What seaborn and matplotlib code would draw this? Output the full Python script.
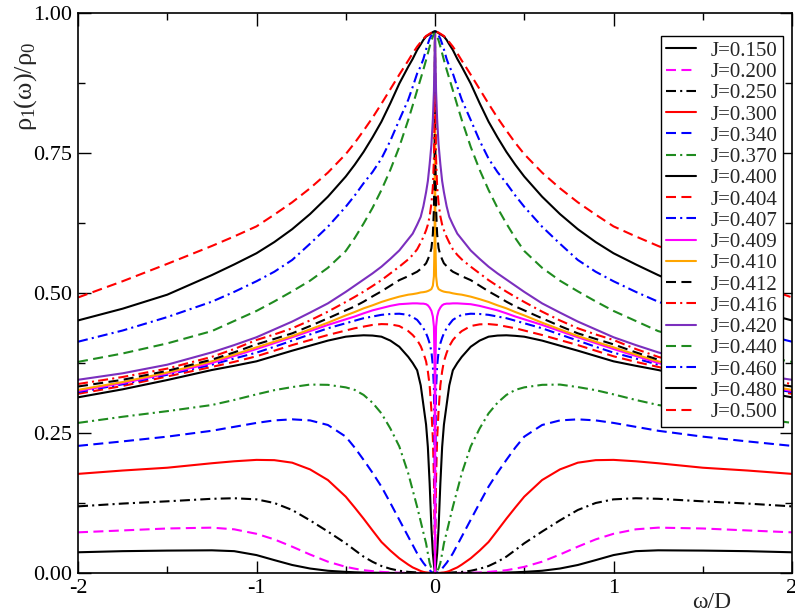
import numpy as np
import pandas as pd
import matplotlib
matplotlib.use("Agg")
import matplotlib.pyplot as plt
import seaborn as sns
from matplotlib.ticker import MultipleLocator, FormatStrFormatter

# |omega|/D sample points (curves are symmetric in omega, read on the left half)
omega_half = [0.0, 0.002, 0.006, 0.012, 0.02, 0.03, 0.04, 0.05, 0.065, 0.08,
              0.1, 0.125, 0.15, 0.2, 0.25, 0.3, 0.35, 0.4, 0.45, 0.5,
              0.6, 0.7, 0.8, 0.9, 1.0, 1.125, 1.25, 1.5, 1.75, 2.0]

j_labels = ["J=0.150", "J=0.200", "J=0.250", "J=0.300", "J=0.340", "J=0.370",
            "J=0.400", "J=0.404", "J=0.407", "J=0.409", "J=0.410", "J=0.412",
            "J=0.416", "J=0.420", "J=0.440", "J=0.460", "J=0.480", "J=0.500"]

rho_150 = [0, 0, 0, 0, 0, 0, 0, 0, 0, 0,
           0, 0, 0, 0, 0.0001, 0.0003, 0.0005, 0.0008, 0.0013, 0.002,
           0.004, 0.008, 0.0143, 0.023, 0.032, 0.039, 0.0405, 0.040, 0.039, 0.037]
rho_200 = [0, 0, 0, 0, 0, 0, 0, 0, 0, 0,
           0, 0, 0.0002, 0.0005, 0.001, 0.002, 0.0033, 0.005, 0.0078, 0.011,
           0.0202, 0.033, 0.047, 0.060, 0.070, 0.078, 0.081, 0.0795, 0.076, 0.0726]
rho_250 = [0, 0, 0, 0, 0, 0, 0, 0.0002, 0.0004, 0.0007,
           0.001, 0.0015, 0.002, 0.004, 0.0075, 0.0125, 0.02, 0.0292, 0.041, 0.053,
           0.074, 0.094, 0.1125, 0.125, 0.1315, 0.1335, 0.1325, 0.128, 0.124, 0.119]
rho_300 = [0, 0, 0, 0, 0.0001, 0.0003, 0.0006, 0.001, 0.002, 0.0035,
           0.0065, 0.010, 0.015, 0.0262, 0.040, 0.0554, 0.076, 0.097, 0.117, 0.1363,
           0.166, 0.185, 0.197, 0.2015, 0.202, 0.1995, 0.196, 0.188, 0.183, 0.177]
rho_340 = [0, 0, 0, 0.0005, 0.002, 0.005, 0.008, 0.012, 0.018, 0.025,
           0.035, 0.05, 0.065, 0.095, 0.125, 0.1542, 0.179, 0.202, 0.224, 0.2435,
           0.2643, 0.2725, 0.2744, 0.2725, 0.268, 0.261, 0.254, 0.2435, 0.235, 0.227]
rho_370 = [0, 0.0005, 0.002, 0.004, 0.008, 0.018, 0.035, 0.053, 0.072, 0.092,
           0.118, 0.148, 0.178, 0.226, 0.258, 0.285, 0.304, 0.318, 0.327, 0.3315,
           0.336, 0.3365, 0.332, 0.3265, 0.319, 0.309, 0.300, 0.289, 0.279, 0.268]
rho_400 = [0, 0.005, 0.015, 0.035, 0.08, 0.16, 0.225, 0.265, 0.30, 0.335,
           0.362, 0.375, 0.386, 0.404, 0.415, 0.422, 0.424, 0.4245, 0.4235, 0.422,
           0.415, 0.406, 0.397, 0.3875, 0.378, 0.370, 0.3625, 0.3446, 0.328, 0.3137]
rho_404 = [0, 0.07, 0.17, 0.24, 0.29, 0.335, 0.36, 0.378, 0.393, 0.405,
           0.416, 0.425, 0.432, 0.441, 0.444, 0.4445, 0.443, 0.440, 0.437, 0.433,
           0.425, 0.416, 0.407, 0.397, 0.387, 0.377, 0.368, 0.351, 0.334, 0.320]
rho_407 = [0, 0.20, 0.33, 0.37, 0.395, 0.41, 0.42, 0.428, 0.437, 0.444,
           0.452, 0.457, 0.461, 0.463, 0.4625, 0.461, 0.458, 0.455, 0.4505, 0.446,
           0.437, 0.426, 0.415, 0.404, 0.3935, 0.383, 0.372, 0.354, 0.337, 0.323]
rho_409 = [0, 0.36, 0.44, 0.458, 0.468, 0.474, 0.478, 0.480, 0.481, 0.481,
           0.4815, 0.4815, 0.481, 0.480, 0.477, 0.473, 0.469, 0.4637, 0.458, 0.453,
           0.443, 0.432, 0.421, 0.4105, 0.400, 0.3875, 0.375, 0.356, 0.339, 0.325]
rho_410 = [0.967, 0.60, 0.53, 0.513, 0.507, 0.505, 0.5035, 0.5024, 0.5015, 0.501,
           0.4994, 0.498, 0.497, 0.4935, 0.489, 0.484, 0.478, 0.4726, 0.466, 0.460,
           0.447, 0.435, 0.4232, 0.413, 0.403, 0.390, 0.378, 0.358, 0.341, 0.327]
rho_412 = [0.967, 0.75, 0.65, 0.605, 0.58, 0.568, 0.56, 0.553, 0.548, 0.543,
           0.538, 0.534, 0.530, 0.523, 0.513, 0.503, 0.494, 0.4845, 0.476, 0.469,
           0.4548, 0.441, 0.428, 0.418, 0.4083, 0.394, 0.381, 0.361, 0.345, 0.333]
rho_416 = [0.967, 0.83, 0.74, 0.69, 0.66, 0.637, 0.622, 0.612, 0.60, 0.59,
           0.578, 0.568, 0.560, 0.547, 0.535, 0.523, 0.5125, 0.5024, 0.493, 0.484,
           0.4667, 0.451, 0.437, 0.426, 0.4161, 0.400, 0.386, 0.365, 0.350, 0.3375]
rho_420 = [0.967, 0.93, 0.86, 0.81, 0.765, 0.73, 0.70, 0.68, 0.655, 0.636,
           0.622, 0.606, 0.596, 0.576, 0.561, 0.547, 0.535, 0.524, 0.513, 0.502,
           0.4815, 0.465, 0.449, 0.435, 0.421, 0.407, 0.394, 0.372, 0.3566, 0.345]
rho_440 = [0.967, 0.966, 0.963, 0.958, 0.951, 0.94, 0.928, 0.916, 0.899, 0.883,
           0.862, 0.835, 0.809, 0.761, 0.72, 0.684, 0.652, 0.624, 0.598, 0.575,
           0.545, 0.522, 0.503, 0.485, 0.468, 0.45, 0.432, 0.41, 0.392, 0.377]
rho_460 = [0.967, 0.967, 0.966, 0.964, 0.96, 0.954, 0.945, 0.935, 0.918, 0.905,
           0.892, 0.868, 0.845, 0.809, 0.772, 0.74, 0.716, 0.696, 0.674, 0.654,
           0.6184, 0.588, 0.559, 0.538, 0.521, 0.502, 0.4845, 0.457, 0.433, 0.413]
rho_480 = [0.967, 0.967, 0.967, 0.966, 0.964, 0.962, 0.96, 0.958, 0.952, 0.944,
           0.934, 0.918, 0.904, 0.874, 0.839, 0.806, 0.778, 0.752, 0.729, 0.708,
           0.672, 0.641, 0.614, 0.591, 0.571, 0.551, 0.532, 0.497, 0.472, 0.451]
rho_500 = [0.967, 0.967, 0.967, 0.966, 0.965, 0.963, 0.961, 0.959, 0.954, 0.948,
           0.940, 0.928, 0.915, 0.89, 0.864, 0.838, 0.813, 0.79, 0.768, 0.748,
           0.715, 0.687, 0.662, 0.64, 0.619, 0.601, 0.584, 0.552, 0.521, 0.492]

curves = [rho_150, rho_200, rho_250, rho_300, rho_340, rho_370, rho_400, rho_404, rho_407,
          rho_409, rho_410, rho_412, rho_416, rho_420, rho_440, rho_460, rho_480, rho_500]

# line look per curve (xmgrace style)
GREEN = "#1f8b1f"
PURPLE = "#7b2fbe"
DASH = (0, (4.8, 2.6))
DDOT = (0, (4.8, 2.0, 1.0, 2.0))
colors = ["black", "#ff00ff", "black", "#ff0000", "#0000ff", GREEN,
          "black", "#ff0000", "#0000ff", "#ff00ff", "#ffa500", "black",
          "#ff0000", PURPLE, GREEN, "#0000ff", "black", "#ff0000"]
styles = ["-", DASH, DDOT, "-", DASH, DDOT,
          "-", DASH, DDOT, "-", "-", DASH,
          DDOT, "-", DASH, DDOT, "-", DASH]

sns.set_style("ticks")
plt.rcParams["font.family"] = ["Liberation Serif", "DejaVu Serif"]
plt.rcParams["mathtext.fontset"] = "custom"
plt.rcParams["mathtext.rm"] = "Liberation Serif"
plt.rcParams["mathtext.it"] = "Liberation Serif"
plt.rcParams["axes.unicode_minus"] = False

fig = plt.figure(figsize=(7.95, 6.16), dpi=100)
ax = fig.add_axes([78 / 795, 43 / 616, 714 / 795, 560 / 616])

w = np.array(omega_half)
omega = np.concatenate([-w[::-1], w[1:]])
for lab, rho, col, ls in zip(j_labels, curves, colors, styles):
    r = np.array(rho)
    df = pd.DataFrame({"omega": omega, "rho": np.concatenate([r[::-1], r[1:]])})
    sns.lineplot(data=df, x="omega", y="rho", color=col, linestyle=ls, lw=1.5,
                 label=lab, estimator=None, sort=False, ax=ax)

ax.set_xlim(-2, 2)
ax.set_ylim(0, 1)
ax.xaxis.set_major_locator(MultipleLocator(1))
ax.xaxis.set_minor_locator(MultipleLocator(0.5))
ax.yaxis.set_major_locator(MultipleLocator(0.25))
ax.yaxis.set_minor_locator(MultipleLocator(0.125))
ax.yaxis.set_major_formatter(FormatStrFormatter("%.2f"))
ax.xaxis.set_major_formatter(FormatStrFormatter("%d"))
ax.tick_params(which="both", direction="in", top=True, right=True, width=1.0,
               labelsize=16, pad=4, colors="black")
ax.tick_params(which="major", length=9)
ax.tick_params(which="minor", length=4.8)
for s in ax.spines.values():
    s.set_linewidth(1.2)
    s.set_color("black")

ax.set_xlabel("ω/D", fontsize=17)
ax.xaxis.set_label_coords(0.8875, -0.034)
ax.set_ylabel(r"$\rho_1(\omega)/\rho_0$", fontsize=19)
ax.yaxis.set_label_coords(-0.055, 0.869)

leg = ax.legend(loc="upper right", bbox_to_anchor=(0.9874, 0.959), borderaxespad=0,
                fontsize=15, labelspacing=0.08, handlelength=1.45, handletextpad=0.7,
                borderpad=0.25, fancybox=False, framealpha=1, edgecolor="black")
leg.get_frame().set_linewidth(1.0)

fig.savefig("out.png", dpi=100)
